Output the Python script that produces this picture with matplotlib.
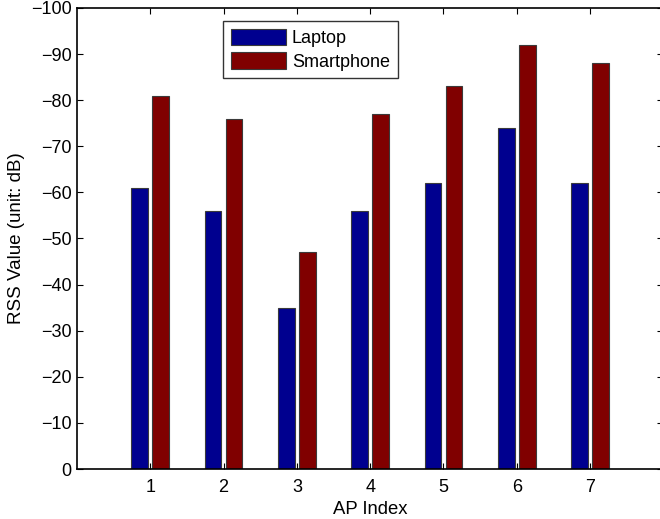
import matplotlib
matplotlib.use("Agg")
import matplotlib.pyplot as plt
import numpy as np

plt.rcParams['font.family'] = ['Liberation Sans', 'DejaVu Sans']

ap_index = [1, 2, 3, 4, 5, 6, 7]
laptop = [-61, -56, -35, -56, -62, -74, -62]
smartphone = [-81, -76, -47, -77, -83, -92, -88]
yticks = list(range(0, -101, -10))

fs = 13
fig = plt.figure(figsize=(6.6, 5.19), dpi=100)
ax = fig.add_axes([77/660, 1 - 469/519, (663.3-77)/660, (469-8)/519])

x = np.array(ap_index, dtype=float)
w = 0.227
off = 0.143
ax.bar(x - off, laptop, width=w, color='#00008F', edgecolor='#3a3a3a', linewidth=0.8, label='Laptop')
ax.bar(x + off, smartphone, width=w, color='#800000', edgecolor='#3a3a3a', linewidth=0.8, label='Smartphone')

ax.set_xlim(0, 8)
ax.set_ylim(0, -100)
ax.set_xticks(ap_index)
ax.set_yticks(yticks)
ax.set_yticklabels(['0'] + ['\u2212%d' % abs(v) for v in yticks[1:]])
ax.tick_params(direction='in', top=True, right=True, labelsize=fs, length=4.5, width=0.8, pad=4)
ax.tick_params(axis='x', pad=7.5)
for s in ax.spines.values():
    s.set_linewidth(1.2)
ax.set_xlabel('AP Index', fontsize=13.3, labelpad=3)
ax.set_ylabel('RSS Value (unit: dB)', fontsize=13.5, labelpad=4)

leg = ax.legend(loc='upper left', bbox_to_anchor=((223-77)/586.3, 1 - (21-8)/461), fontsize=fs,
                frameon=True, fancybox=False, edgecolor='black', handlelength=3.05, handleheight=1.05,
                borderpad=0.42, labelspacing=0.28, handletextpad=0.35, borderaxespad=0)
leg.get_frame().set_linewidth(1.0)

fig.savefig('out.png', dpi=100)
